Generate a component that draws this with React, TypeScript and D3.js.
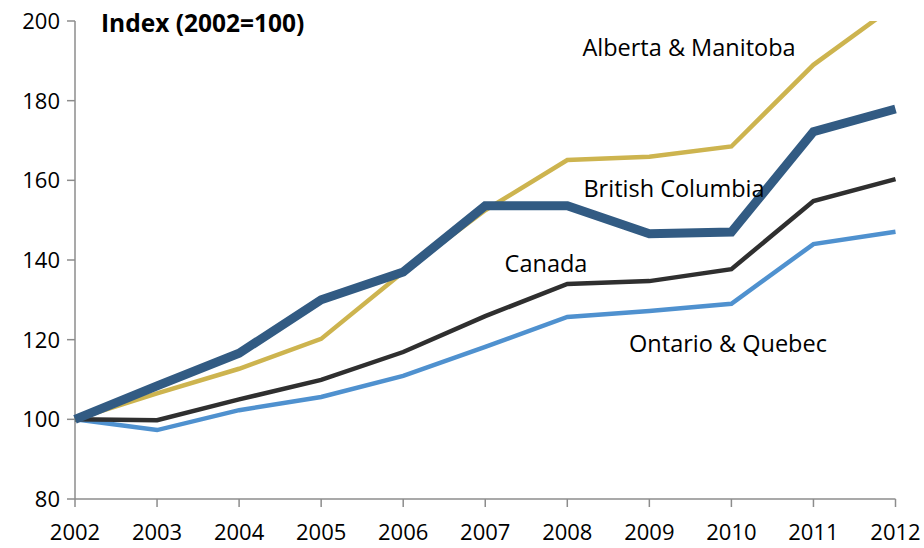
import React, { useEffect, useRef } from "react";
import * as d3 from "d3";

const years = [2002, 2003, 2004, 2005, 2006, 2007, 2008, 2009, 2010, 2011, 2012];
const yTicks = [80, 100, 120, 140, 160, 180, 200];

const ontarioQuebec = [100, 97.3, 102.3, 105.6, 110.9, 118.2, 125.7, 127.2, 129, 144, 147.1];
const canada = [100, 99.8, 105, 109.9, 116.9, 125.9, 134, 134.7, 137.7, 154.8, 160.3];
const britishColumbia = [100, 108.4, 116.6, 130, 137, 153.6, 153.6, 146.6, 147, 172.2, 177.9];
const albertaManitoba = [100, 106.5, 112.7, 120.2, 137, 152.5, 165.1, 165.9, 168.5, 189, 204];

const seriesNames = ["Ontario & Quebec", "Canada", "Alberta & Manitoba", "British Columbia"];

const font = "'Open Sans', sans-serif";

const App = () => {
  const ref = useRef<SVGSVGElement>(null);

  useEffect(() => {
    const svg = d3.select(ref.current);
    svg.selectAll("*").remove();

    const x = d3.scaleLinear().domain([2002, 2012]).range([75, 895.5]);
    const y = d3.scaleLinear().domain([80, 200]).range([499, 21]);

    const series = [
      { name: seriesNames[0], values: ontarioQuebec, color: "#4f91cf", width: 4.5, lx: 728, ly: 352 },
      { name: seriesNames[1], values: canada, color: "#2f2f2f", width: 4.5, lx: 546, ly: 272 },
      { name: seriesNames[2], values: albertaManitoba, color: "#cdb44f", width: 4.5, lx: 689, ly: 56 },
      { name: seriesNames[3], values: britishColumbia, color: "#325b83", width: 9, lx: 674, ly: 197 },
    ];

    svg
      .append("defs")
      .append("clipPath")
      .attr("id", "plot-clip")
      .append("rect")
      .attr("x", 60)
      .attr("y", 21)
      .attr("width", 870)
      .attr("height", 490);

    // y axis
    const axisColor = "#8c8c8c";
    svg
      .append("line")
      .attr("x1", 75)
      .attr("x2", 75)
      .attr("y1", 21)
      .attr("y2", 499)
      .attr("stroke", axisColor)
      .attr("stroke-width", 1.5);

    svg
      .selectAll(".ytick")
      .data(yTicks)
      .enter()
      .append("line")
      .attr("x1", 67)
      .attr("x2", 75)
      .attr("y1", (d) => y(d))
      .attr("y2", (d) => y(d))
      .attr("stroke", axisColor)
      .attr("stroke-width", 1.5);

    svg
      .selectAll(".ylabel")
      .data(yTicks)
      .enter()
      .append("text")
      .attr("x", 60)
      .attr("y", (d) => y(d))
      .attr("dy", "0.36em")
      .attr("text-anchor", "end")
      .style("font-family", font)
      .style("font-size", "22px")
      .attr("fill", "#000")
      .text((d) => d);

    // x axis
    svg
      .append("line")
      .attr("x1", 75)
      .attr("x2", 895.5)
      .attr("y1", 499)
      .attr("y2", 499)
      .attr("stroke", axisColor)
      .attr("stroke-width", 1.5);

    svg
      .selectAll(".xtick")
      .data(years)
      .enter()
      .append("line")
      .attr("x1", (d) => x(d))
      .attr("x2", (d) => x(d))
      .attr("y1", 499)
      .attr("y2", 507)
      .attr("stroke", axisColor)
      .attr("stroke-width", 1.5);

    svg
      .selectAll(".xlabel")
      .data(years)
      .enter()
      .append("text")
      .attr("x", (d) => x(d))
      .attr("y", 540)
      .attr("text-anchor", "middle")
      .style("font-family", font)
      .style("font-size", "22px")
      .attr("fill", "#000")
      .text((d) => d);

    const line = d3
      .line<number>()
      .x((_, i) => x(years[i]))
      .y((d) => y(d));

    const g = svg.append("g").attr("clip-path", "url(#plot-clip)");
    series.forEach((s) => {
      g.append("path")
        .attr("d", line(s.values))
        .attr("fill", "none")
        .attr("stroke", s.color)
        .attr("stroke-width", s.width)
        .attr("stroke-linejoin", "miter");
    });

    series.forEach((s) => {
      svg
        .append("text")
        .attr("x", s.lx)
        .attr("y", s.ly)
        .attr("text-anchor", "middle")
        .style("font-family", font)
        .style("font-size", "23.5px")
        .attr("fill", "#000")
        .text(s.name);
    });

    svg
      .append("text")
      .attr("x", 101)
      .attr("y", 32)
      .style("font-family", font)
      .style("font-size", "24.5px")
      .style("font-weight", "bold")
      .attr("fill", "#000")
      .text("Index (2002=100)");
  }, []);

  return (
    <svg
      ref={ref}
      width={924}
      height={548}
      style={{ position: "absolute", left: 0, top: 0, background: "#fff" }}
    ></svg>
  );
};

export default App;
